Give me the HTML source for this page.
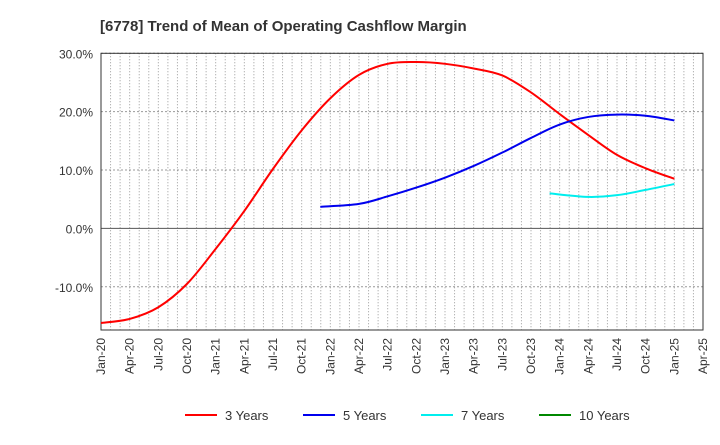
<!DOCTYPE html>
<html><head><meta charset="utf-8"><style>
body{margin:0;background:#fff;font-family:"Liberation Sans",Arial,sans-serif;}
</style></head><body>
<svg id="c" width="720" height="440" xmlns="http://www.w3.org/2000/svg" font-family="Liberation Sans, Arial, sans-serif">
<text x="100" y="31" font-size="15" font-weight="bold" fill="#333">[6778]  Trend of Mean of Operating Cashflow Margin</text>
<g id="grid"></g><g id="axes"></g><g id="series"></g><g id="legend"></g>
</svg>
<script>
const xLabels=["Jan-20","Apr-20","Jul-20","Oct-20","Jan-21","Apr-21","Jul-21","Oct-21","Jan-22","Apr-22","Jul-22","Oct-22","Jan-23","Apr-23","Jul-23","Oct-23","Jan-24","Apr-24","Jul-24","Oct-24","Jan-25","Apr-25"];
const yTicks=[-10,0,10,20,30];
const s3=[-16.2,-15.5,-13.5,-9.5,-3.5,3,10.2,16.8,22.3,26.3,28.2,28.5,28.2,27.4,26.2,23.3,19.6,16,12.6,10.3,8.5];
const s5=[3.7,4.2,5.5,7,8.7,10.7,13,15.5,17.8,19.1,19.5,19.3,18.5];
const s7=[6,5.4,5.7,6.6,7.6];
const s10=[];
const L=101,R=703,T=53.3,B=330,yMin=-17.4,yMax=30;
const qw=(R-L)/21;
const X=i=>L+i*qw, Y=v=>B-(v-yMin)/(yMax-yMin)*(B-T);
const NS="http://www.w3.org/2000/svg";
function mk(t,a,p){const e=document.createElementNS(NS,t);for(const k in a)e.setAttribute(k,a[k]);p.appendChild(e);return e;}
const g=document.getElementById('grid'),ax=document.getElementById('axes'),se=document.getElementById('series'),lg=document.getElementById('legend');
for(let m=1;m<63;m++){const x=L+m*(R-L)/63;const l=mk('line',{x1:x,x2:x,y1:T,y2:B,stroke:'#999','stroke-dasharray':'1,2','stroke-width':1},g);

}
yTicks.forEach(v=>{const l=mk('line',{x1:L,x2:R,y1:Y(v),y2:Y(v),stroke:v===0?'#555':'#999','stroke-dasharray':v===0?'none':'2,2'},g);

});
const fr=mk('rect',{x:L,y:T,width:R-L,height:B-T,fill:'none',stroke:'#333'},ax);


yTicks.forEach(v=>{const t=mk('text',{x:L-8,y:Y(v)+5,'text-anchor':'end','font-size':12,fill:'#333'},ax);t.textContent=v.toFixed(1)+'%';

});
xLabels.forEach((s,i)=>{const x=X(i),y=B+8;const t=mk('text',{x:x+4,y:y,'text-anchor':'end','font-size':12,fill:'#333',transform:`rotate(-90 ${x+4} ${y})`},ax);t.textContent=s;

});
function path(arr,off,shiftFirst){const p=arr.map((v,i)=>[X(i+off-(i===0?shiftFirst:0)),Y(v)]);if(p.length<2)return'';let d=`M${p[0][0]},${p[0][1]}`;
for(let i=0;i<p.length-1;i++){const p0=p[i-1]||p[i],p1=p[i],p2=p[i+1],p3=p[i+2]||p2;
d+=` C${p1[0]+(p2[0]-p0[0])/6},${p1[1]+(p2[1]-p0[1])/6} ${p2[0]-(p3[0]-p1[0])/6},${p2[1]-(p3[1]-p1[1])/6} ${p2[0]},${p2[1]}`;}return d;}
[[s3,0,0,'#ff0000','series-3-years'],[s5,8,0.35,'#0000ee','series-5-years'],[s7,16,0.35,'#00eeee','series-7-years'],[s10,20,0,'#008800','series-10-years']].forEach(([a,o,sf,c,n])=>{
if(!a.length)return;const e=mk('path',{d:path(a,o,sf),fill:'none',stroke:c,'stroke-width':2},se);

});
[['3 Years','#ff0000',185],['5 Years','#0000ee',303],['7 Years','#00eeee',421],['10 Years','#008800',539]].forEach(([t,c,x])=>{
const l=mk('line',{x1:x,x2:x+32,y1:415,y2:415,stroke:c,'stroke-width':2},lg);


const tx=mk('text',{x:x+40,y:420,'font-size':13,fill:'#333'},lg);tx.textContent=t;

});
</script>
</body></html>
